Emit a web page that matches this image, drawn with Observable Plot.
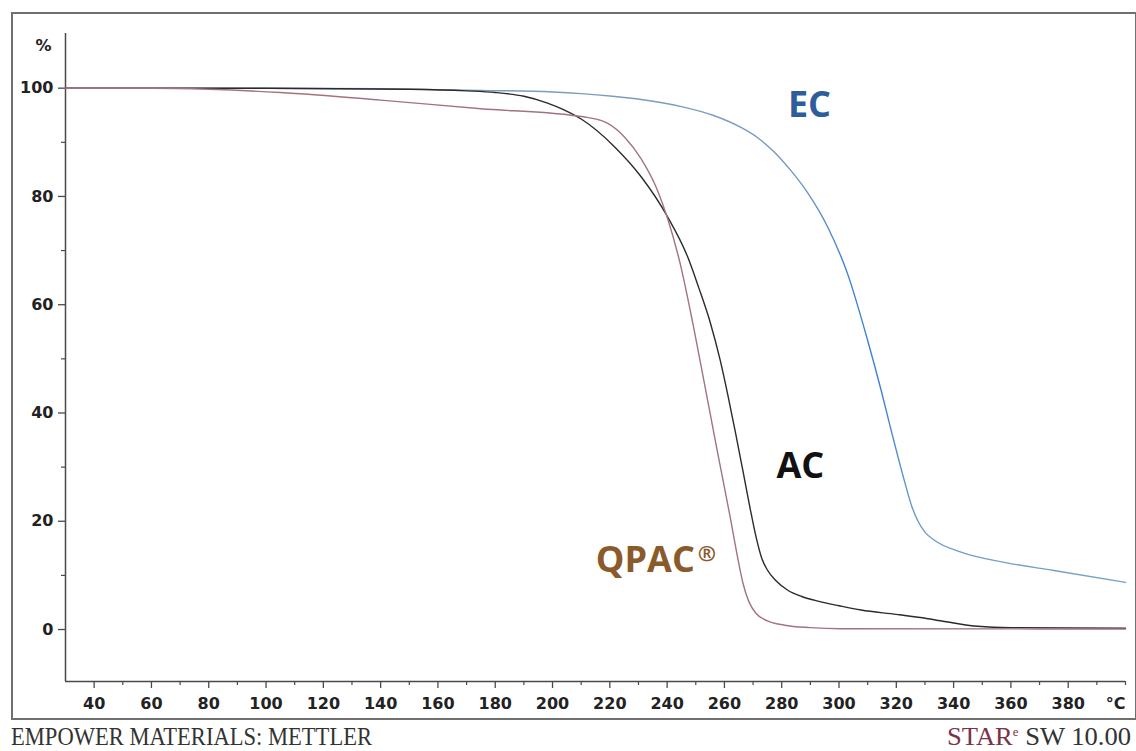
<!DOCTYPE html>
<html>
<head>
<meta charset="utf-8">
<script src="https://cdn.jsdelivr.net/npm/d3@7"></script>
<script src="https://cdn.jsdelivr.net/npm/@observablehq/plot@0.6"></script>
<style>
  html, body { margin: 0; padding: 0; background: #fff; }
  #wrap { position: relative; width: 1136px; height: 751px; overflow: hidden; background: #fff; }
  #chart { position: absolute; left: 0; top: 0; }
  #box { position: absolute; left: 11px; top: 12px; width: 1126px; height: 708px; border: 2px solid #707070; box-sizing: border-box; pointer-events: none; }
  #foot { position: absolute; left: 0; top: 720px; }
</style>
</head>
<body>
<div id="wrap">
  <div id="chart"></div>
  <div id="box"></div>
  <svg id="foot" width="1136" height="31" xmlns="http://www.w3.org/2000/svg">
    <text x="11" y="25" textLength="361" lengthAdjust="spacingAndGlyphs" font-family="'Liberation Serif', serif" font-size="25" fill="#333">EMPOWER MATERIALS: METTLER</text>
    <text x="947" y="25" textLength="184" lengthAdjust="spacingAndGlyphs" font-family="'Liberation Serif', serif" font-size="25" fill="#333"><tspan fill="#7a3446">STAR</tspan><tspan fill="#7a3446" font-size="12" dy="-9">e</tspan><tspan dy="9"> SW 10.00</tspan></text>
  </svg>
</div>
<script>
// ---- Data (temperature °C, mass %) ----
const ecTemp  = [30, 60, 100, 140, 175, 200, 210, 221, 231, 245, 256, 265.6, 271.5, 277.2, 283, 288.9, 296, 303, 310, 314.7, 318.2, 322.8, 325.5, 327.5, 330, 333.3, 342.6, 357.7, 375, 400];
const ecMass  = [100, 100, 100, 99.9, 99.6, 99.3, 99.0, 98.5, 97.9, 96.6, 95.0, 92.8, 90.9, 88.3, 84.9, 80.8, 74.4, 65.7, 53.4, 44.2, 36.8, 27.5, 22.6, 20.1, 18.0, 16.5, 14.3, 12.4, 10.9, 8.7];

const acTemp  = [30, 100, 150, 170, 180, 190, 198, 204, 210, 221.6, 231, 240.2, 247.2, 251, 255, 258.5, 261.2, 264, 266.5, 269, 271, 273, 275, 278, 282, 287, 293, 300, 307.7, 320, 331, 340, 348.4, 360, 400];
const acMass  = [100, 100, 99.8, 99.5, 99.2, 98.5, 97.3, 96.0, 94.3, 89.2, 83.6, 76.2, 68.8, 63.2, 56.8, 49.8, 43.3, 36.0, 29.2, 22.3, 17.2, 13.2, 11.0, 9.0, 7.3, 6.1, 5.2, 4.4, 3.6, 2.8, 2.0, 1.2, 0.6, 0.35, 0.25];

const qpTemp  = [30, 60, 80, 105, 140, 175, 206.5, 212, 219.3, 225.1, 231, 236.5, 240, 244.6, 249, 253, 257.5, 262, 264.5, 266.5, 268.5, 271, 275, 281, 290, 300.7, 400];
const qpMass  = [100, 100, 99.8, 99.2, 97.8, 96.2, 95.0, 94.6, 93.5, 91.0, 86.9, 81.3, 76.2, 67.5, 56.5, 45.5, 33.0, 20.8, 13.6, 8.5, 5.2, 3.0, 1.6, 0.8, 0.35, 0.15, 0.1];

const xMajorTicks = [40, 60, 80, 100, 120, 140, 160, 180, 200, 220, 240, 260, 280, 300, 320, 340, 360, 380];
const xMinorTicks = [50, 70, 90, 110, 130, 150, 170, 190, 210, 230, 250, 270, 290, 310, 330, 350, 370, 390, 400];
const yMajorTicks = [0, 20, 40, 60, 80, 100];
const yMinorTicks = [10, 30, 50, 70, 90];

const seriesNames = ["EC", "AC", "QPAC"];
const seriesColors = {EC: "url(#ecGrad)", AC: "#2b2b2b", QPAC: "#a2747c"};

const rows = [
  ...ecTemp.map((t, i) => ({series: "EC", t, m: ecMass[i]})),
  ...acTemp.map((t, i) => ({series: "AC", t, m: acMass[i]})),
  ...qpTemp.map((t, i) => ({series: "QPAC", t, m: qpMass[i]}))
];

// annotation labels (data-space anchors)
const labels = [
  {text: "EC", t: 289.7, m: 96.8, color: "#2c5e9c"},
  {text: "AC", t: 286.5, m: 30.1, color: "#111111"},
  {text: "QPAC", t: 232.4, m: 12.8, color: "#8b5a2b"}
];
const regMark = [{text: "®", t: 253.9, m: 13.9, color: "#8b5a2b"}];

const X0 = 30, X1 = 400, Y0 = -9.6, Y1 = 110.1;
const axisColor = "#4a4a4a";
const tickFont = {fontFamily: "'DejaVu Sans', sans-serif", fontSize: 16, fontWeight: "bold", fill: "#222"};

// gradient definition for the EC stroke (greyish blue at top, saturated in the drop)
function ecGradientDefs() {
  const ns = "http://www.w3.org/2000/svg";
  const defs = document.createElementNS(ns, "defs");
  const g = document.createElementNS(ns, "linearGradient");
  g.setAttribute("id", "ecGrad");
  g.setAttribute("gradientUnits", "userSpaceOnUse");
  g.setAttribute("x1", "0"); g.setAttribute("x2", "0");
  g.setAttribute("y1", "80"); g.setAttribute("y2", "600");
  [["0", "#7d9dbd"], ["0.2", "#6e98c4"], ["0.35", "#3f82d2"], ["0.62", "#3f82d2"], ["0.85", "#6c9bcb"], ["1", "#78a2cc"]]
    .forEach(([o, c]) => {
      const s = document.createElementNS(ns, "stop");
      s.setAttribute("offset", o); s.setAttribute("stop-color", c);
      g.appendChild(s);
    });
  defs.appendChild(g);
  return defs;
}

const chart = Plot.plot({
  width: 1136,
  height: 720,
  marginLeft: 65,
  marginRight: 11,
  marginTop: 33,
  marginBottom: 39,
  x: {domain: [X0, X1]},
  y: {domain: [Y0, Y1]},
  style: {fontFamily: "'DejaVu Sans', sans-serif", fontSize: "16px", fontWeight: "bold", background: "transparent", overflow: "visible"},
  marks: [
    ecGradientDefs,
    Plot.ruleX([X0], {stroke: axisColor, strokeWidth: 1.5}),
    Plot.ruleY([Y0], {stroke: axisColor, strokeWidth: 1.5}),
    Plot.axisY(yMajorTicks, {tickSize: 7, tickPadding: 5, stroke: axisColor, strokeWidth: 1.3, label: null, ...tickFont}),
    Plot.axisY(yMinorTicks, {tickSize: 4, text: null, stroke: axisColor, strokeWidth: 1.2, label: null}),
    Plot.axisX(xMajorTicks, {tickSize: 7, tickPadding: 9, stroke: axisColor, strokeWidth: 1.3, label: null, ...tickFont}),
    Plot.axisX(xMinorTicks, {tickSize: 4, text: null, stroke: axisColor, strokeWidth: 1.2, label: null}),
    Plot.text(["°C"], {x: () => X1, y: () => Y0, dy: 22, textAnchor: "end", ...tickFont}),
    Plot.text(["%"], {x: () => X0, y: () => Y1, dx: -22, dy: 12, ...tickFont}),
    ...seriesNames.map(name => Plot.line(rows.filter(d => d.series === name), {
      x: "t", y: "m", stroke: seriesColors[name], strokeWidth: 1.4, curve: "monotone-x"
    })),
    Plot.text(labels, {x: "t", y: "m", text: "text", fill: "color", textAnchor: "middle",
      fontFamily: "'Open Sans', sans-serif", fontWeight: "bold", fontSize: 36}),
    Plot.text(regMark, {x: "t", y: "m", text: "text", fill: "color", textAnchor: "middle",
      fontFamily: "'Open Sans', sans-serif", fontWeight: "bold", fontSize: 22})
  ]
});
document.getElementById("chart").appendChild(chart);
</script>
</body>
</html>
